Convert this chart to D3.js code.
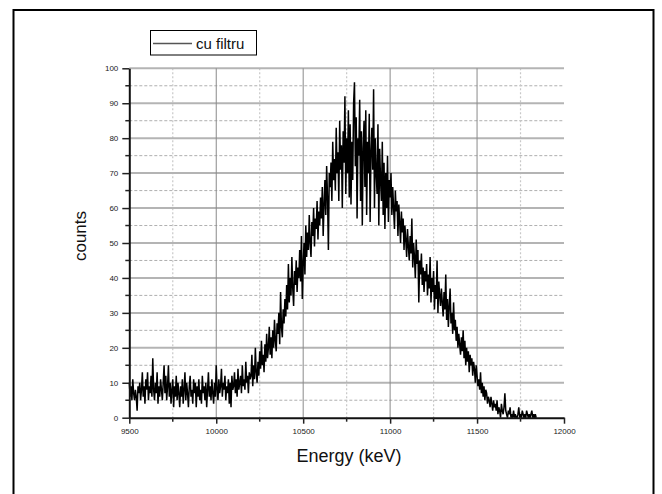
<!DOCTYPE html>
<html>
<head>
<meta charset="utf-8">
<script src="https://cdn.jsdelivr.net/npm/d3@7"></script>
<style>
  body { margin: 0; background: #fff; }
  text { font-family: "Liberation Sans", Arial, sans-serif; }
</style>
</head>
<body>
<div id="chart"></div>
<script>
var svgWidth = 662;
var svgHeight = 494;

// spectrum: counts per 5 keV bin starting at 9500 keV
var startEnergy = 9500;
var binWidth = 5;
var counts = [
  10, 6, 9, 5, 11, 7, 5, 8, 6, 2, 9, 7, 10, 5, 8, 13, 6, 9, 4, 11,
  8, 13, 5, 9, 7, 12, 6, 17, 8, 5, 10, 7, 13, 4, 9, 6, 11, 8, 5, 10,
  15, 7, 12, 5, 9, 15, 6, 10, 4, 8, 11, 3, 9, 6, 12, 5, 10, 7, 3, 9,
  6, 11, 4, 8, 13, 5, 10, 7, 3, 9, 12, 6, 8, 4, 11, 7, 10, 3, 9, 6,
  11, 5, 8, 4, 12, 7, 9, 5, 10, 3, 8, 13, 6, 9, 5, 11, 7, 4, 10, 6,
  15, 8, 5, 11, 7, 9, 14, 6, 10, 8, 12, 5, 9, 7, 11, 4, 10, 3, 12, 8,
  9, 13, 7, 11, 6, 14, 8, 10, 12, 7, 15, 9, 11, 8, 16, 10, 12, 7, 13, 11,
  12, 18, 9, 15, 11, 20, 13, 10, 16, 12, 19, 14, 22, 15, 18, 13, 21, 16, 24, 17,
  20, 26, 18, 23, 17, 25, 20, 28, 22, 19, 27, 24, 30, 21, 36, 26, 23, 31, 27, 34,
  29, 38, 31, 44, 33, 40, 35, 46, 37, 32, 42, 38, 45, 36, 43, 40, 48, 39, 52, 34,
  44, 50, 41, 55, 46, 53, 48, 58, 50, 46, 56, 52, 60, 49, 57, 54, 62, 51, 59, 55,
  63, 57, 66, 52, 61, 68, 58, 72, 63, 48, 70, 66, 73, 62, 79, 68, 74, 65, 83, 70,
  76, 62, 85, 71, 78, 60, 82, 73, 92, 64, 80, 70, 88, 63, 84, 61, 79, 68, 90, 96,
  72, 86, 57, 80, 75, 91, 62, 82, 55, 77, 85, 66, 88, 58, 79, 70, 87, 56, 76, 83,
  71, 94, 60, 80, 70, 64, 84, 55, 77, 68, 62, 79, 58, 73, 54, 70, 60, 75, 56, 68,
  63, 70, 58, 66, 60, 54, 65, 59, 62, 52, 61, 56, 50, 59, 53, 57, 48, 55, 51, 46,
  54, 49, 45, 52, 47, 57, 43, 50, 46, 40, 51, 44, 48, 33, 45, 41, 47, 38, 43, 36,
  42, 39, 44, 35, 41, 37, 46, 33, 40, 36, 42, 31, 38, 34, 45, 30, 39, 35, 32, 37,
  33, 29, 36, 31, 41, 28, 34, 26, 32, 37, 27, 30, 24, 33, 25, 28, 22, 26, 20, 24,
  21, 18, 23, 19, 25, 17, 22, 15, 20, 16, 19, 13, 18, 15, 17, 12, 16, 14, 10, 15,
  12, 9, 11, 8, 13, 7, 10, 6, 9, 5, 8, 7, 4, 6, 5, 3, 6, 4, 2, 5,
  3, 4, 2, 5, 1, 3, 2, 0, 4, 2, 1, 3, 7, 2, 1, 0, 2, 1, 3, 0,
  1, 0, 2, 0, 1, 0, 0, 1, 3, 0, 1, 0, 2, 1, 0, 1, 0, 2, 1, 0,
  1, 0, 1, 2, 0, 1, 0, 1, 0
];

var xTicks = [9500, 10000, 10500, 11000, 11500, 12000];
var xMinorTicks = [9750, 10250, 10750, 11250, 11750];
var yTicks = [0, 10, 20, 30, 40, 50, 60, 70, 80, 90, 100];
var yMinorTicks = [5, 15, 25, 35, 45, 55, 65, 75, 85, 95];

var spectrum = counts.map((c, i) => ({ energy: startEnergy + i * binWidth, counts: c }));

var margin = { top: 68.3, left: 129.3 };
var width = 434.7;
var height = 349.4;

var svg = d3.select("#chart")
  .append("svg")
  .attr("width", svgWidth)
  .attr("height", svgHeight);

// outer frame (bottom runs off the picture)
svg.append("path")
  .attr("d", "M13.5,500 V10 H653.5 V500")
  .attr("fill", "none")
  .attr("stroke", "#000")
  .attr("stroke-width", 2);

var chartGroup = svg.append("g")
  .attr("transform", `translate(${margin.left}, ${margin.top})`);

var xScale = d3.scaleLinear().domain([9500, 12000]).range([0, width]);
var yScale = d3.scaleLinear().domain([0, 100]).range([height, 0]);

// grid
chartGroup.append("g").selectAll("line")
  .data(yMinorTicks)
  .enter().append("line")
  .attr("x1", 0).attr("x2", width)
  .attr("y1", d => yScale(d)).attr("y2", d => yScale(d))
  .attr("stroke", "#9a9a9a")
  .attr("stroke-width", 0.8)
  .attr("stroke-dasharray", "3,2");

chartGroup.append("g").selectAll("line")
  .data(xMinorTicks)
  .enter().append("line")
  .attr("x1", d => xScale(d)).attr("x2", d => xScale(d))
  .attr("y1", 0).attr("y2", height)
  .attr("stroke", "#c8c8c8")
  .attr("stroke-width", 1.2)
  .attr("stroke-dasharray", "2,2");

chartGroup.append("g").selectAll("line")
  .data(yTicks.slice(1))
  .enter().append("line")
  .attr("x1", 0).attr("x2", width)
  .attr("y1", d => yScale(d)).attr("y2", d => yScale(d))
  .attr("stroke", "#b4b4b4")
  .attr("stroke-width", 2);

chartGroup.append("g").selectAll("line")
  .data(xTicks.slice(1, -1))
  .enter().append("line")
  .attr("x1", d => xScale(d)).attr("x2", d => xScale(d))
  .attr("y1", 0).attr("y2", height)
  .attr("stroke", "#8a8a8a")
  .attr("stroke-width", 1);

// spectrum line
var line = d3.line()
  .x(d => xScale(d.energy))
  .y(d => yScale(d.counts));

chartGroup.append("path")
  .datum(spectrum)
  .attr("d", line)
  .attr("fill", "none")
  .attr("stroke", "#000")
  .attr("stroke-width", 1.5)
  .attr("stroke-linejoin", "miter");

// axes
var bottomAxis = d3.axisBottom(xScale).tickValues(xTicks).tickSize(6).tickSizeOuter(0).tickFormat(d3.format("d"));
var leftAxis = d3.axisLeft(yScale).tickValues(yTicks).tickSize(7).tickSizeOuter(0).tickFormat(d3.format("d"));

var xAxis = chartGroup.append("g")
  .attr("transform", `translate(0, ${height})`)
  .call(bottomAxis);

var yAxis = chartGroup.append("g")
  .call(leftAxis);

[xAxis, yAxis].forEach(function(ax) {
  ax.select(".domain").attr("stroke", "#111").attr("stroke-width", 2);
  ax.selectAll(".tick line").attr("stroke", "#222").attr("stroke-width", 1.5);
  ax.selectAll(".tick text")
    .attr("fill", "#222")
    .style("font-size", "8px")
    .style("font-family", "'Liberation Sans', Arial, sans-serif");
});
xAxis.selectAll(".tick text").attr("dy", "0.71em").attr("y", 11);
yAxis.selectAll(".tick text").attr("x", -11);

// minor ticks
chartGroup.append("g").selectAll("line")
  .data(xMinorTicks)
  .enter().append("line")
  .attr("x1", d => xScale(d)).attr("x2", d => xScale(d))
  .attr("y1", height).attr("y2", height + 4)
  .attr("stroke", "#222").attr("stroke-width", 1.5);

chartGroup.append("g").selectAll("line")
  .data(yMinorTicks)
  .enter().append("line")
  .attr("x1", -4).attr("x2", 0)
  .attr("y1", d => yScale(d)).attr("y2", d => yScale(d))
  .attr("stroke", "#222").attr("stroke-width", 1.5);

// axis titles
svg.append("text")
  .attr("transform", "translate(86, 236) rotate(-90)")
  .attr("text-anchor", "middle")
  .style("font-size", "17px")
  .attr("fill", "#111")
  .text("counts");

svg.append("text")
  .attr("x", 349)
  .attr("y", 462)
  .attr("text-anchor", "middle")
  .style("font-size", "18px")
  .attr("fill", "#111")
  .text("Energy (keV)");

// legend
var legend = svg.append("g");
legend.append("rect")
  .attr("x", 150.5).attr("y", 30.5)
  .attr("width", 106).attr("height", 24.5)
  .attr("fill", "#fff")
  .attr("stroke", "#000")
  .attr("stroke-width", 1);
legend.append("line")
  .attr("x1", 153).attr("x2", 192)
  .attr("y1", 43.5).attr("y2", 43.5)
  .attr("stroke", "#555")
  .attr("stroke-width", 1.5);
legend.append("text")
  .attr("x", 196)
  .attr("y", 49)
  .style("font-size", "15px")
  .attr("fill", "#111")
  .text("cu filtru");
</script>
</body>
</html>
